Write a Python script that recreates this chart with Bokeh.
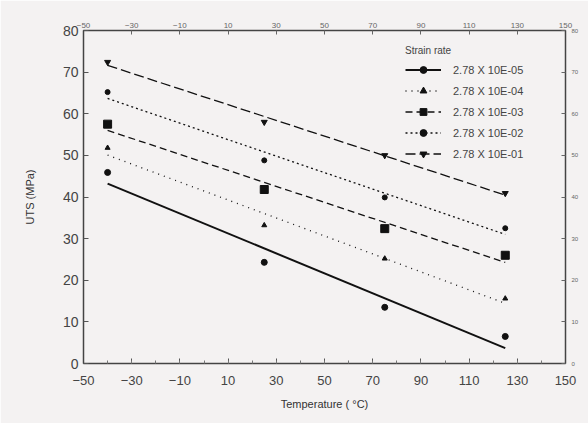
import numpy as np
from bokeh.plotting import figure
from bokeh.models import LinearAxis, FixedTicker, Range1d
from bokeh.embed import file_html
from bokeh.resources import INLINE

temps = [-40, 25, 75, 125]
series_labels = ["2.78 X 10E-05", "2.78 X 10E-04", "2.78 X 10E-03", "2.78 X 10E-02", "2.78 X 10E-01"]
uts_e05 = [45.9, 24.3, 13.5, 6.5]
uts_e04 = [51.8, 33.2, 25.2, 15.6]
uts_e03 = [57.5, 41.8, 32.4, 26.0]
uts_e02 = [65.2, 48.8, 39.9, 32.5]
uts_e01 = [72.4, 58.0, 50.0, 40.9]
x_ticks = [-50, -30, -10, 10, 30, 50, 70, 90, 110, 130, 150]
y_ticks = [0, 10, 20, 30, 40, 50, 60, 70, 80]

series = [uts_e05, uts_e04, uts_e03, uts_e02, uts_e01]
markers = ["circle", "triangle", "square", "circle", "inverted_triangle"]
msizes = [6, 5, 8, 5, 6]
dashes = ["solid", "1 5", "7 4", "2 3", "10 4"]
lwidths = [2.0, 1.3, 1.3, 1.3, 1.3]

FONT = "Liberation Sans"
BG = "#f4f2f2"

p = figure(width=588, height=423, output_backend="svg", toolbar_location=None,
           x_range=Range1d(-50, 150), y_range=Range1d(0, 80),
           background_fill_color=BG, border_fill_color=BG,
           min_border_left=83, min_border_right=23, min_border_top=30, min_border_bottom=60)
p.grid.visible = False
p.outline_line_color = "#444444"
p.outline_line_width = 1.5

for ax in (p.xaxis[0], p.yaxis[0]):
    ax.major_label_text_font = FONT
    ax.major_label_text_color = "#444444"
    ax.axis_label_text_font = FONT
    ax.axis_label_text_font_style = "normal"
    ax.axis_label_text_color = "#333333"
    ax.axis_label_text_font_size = "11px"
    ax.major_tick_in = 5
    ax.major_tick_out = 0
    ax.minor_tick_in = 3
    ax.minor_tick_out = 0
    ax.axis_line_color = "#444444"
    ax.major_tick_line_color = "#555555"
    ax.minor_tick_line_color = "#777777"

p.xaxis[0].ticker = FixedTicker(ticks=x_ticks, minor_ticks=list(range(-50, 151, 10)))
p.yaxis[0].ticker = FixedTicker(ticks=y_ticks)
p.xaxis[0].major_label_text_font_size = "13px"
p.yaxis[0].major_label_text_font_size = "14px"
p.xaxis[0].major_label_standoff = 12
p.xaxis[0].axis_label = "Temperature ( \u00b0C)"
p.yaxis[0].axis_label = "UTS (MPa)"
p.xaxis[0].axis_label_standoff = 10
p.yaxis[0].axis_label_standoff = 24

top = LinearAxis(ticker=FixedTicker(ticks=x_ticks))
right = LinearAxis(ticker=FixedTicker(ticks=y_ticks))
for ax, fs, so in ((top, "8px", 3), (right, "6px", 6)):
    ax.major_label_text_font = FONT
    ax.major_label_text_font_size = fs
    ax.major_label_text_color = "#666666"
    ax.major_tick_in = 4
    ax.major_tick_out = 0
    ax.minor_tick_line_color = None
    ax.axis_line_color = "#444444"
    ax.major_tick_line_color = "#666666"
    ax.major_label_standoff = so
p.add_layout(top, "above")
p.add_layout(right, "right")

tx = np.array(temps, dtype=float)
xs_fit = np.array([tx.min(), tx.max()])
for vals, lab, mk, ms, dash, lw in zip(series, series_labels, markers, msizes, dashes, lwidths):
    k, b = np.polyfit(tx, np.array(vals), 1)
    p.line(list(xs_fit), list(k * xs_fit + b), line_color="#111111", line_width=lw,
           line_dash=dash, legend_label=lab)
    p.scatter(temps, vals, marker=mk, size=ms, fill_color="#111111", line_color="#111111",
              legend_label=lab)

lg = p.legend[0]
lg.title = "Strain rate"
lg.title_text_font = FONT
lg.title_text_font_size = "10px"
lg.title_text_font_style = "normal"
lg.title_text_color = "#444444"
lg.label_text_font = FONT
lg.label_text_font_size = "11px"
lg.label_text_color = "#444444"
lg.border_line_color = None
lg.background_fill_alpha = 0
lg.location = (322, 201)
lg.glyph_width = 36
lg.label_height = 17
lg.glyph_height = 17
lg.spacing = 4
lg.label_standoff = 12
lg.padding = 4

open("out.html", "w").write(file_html(p, INLINE))
